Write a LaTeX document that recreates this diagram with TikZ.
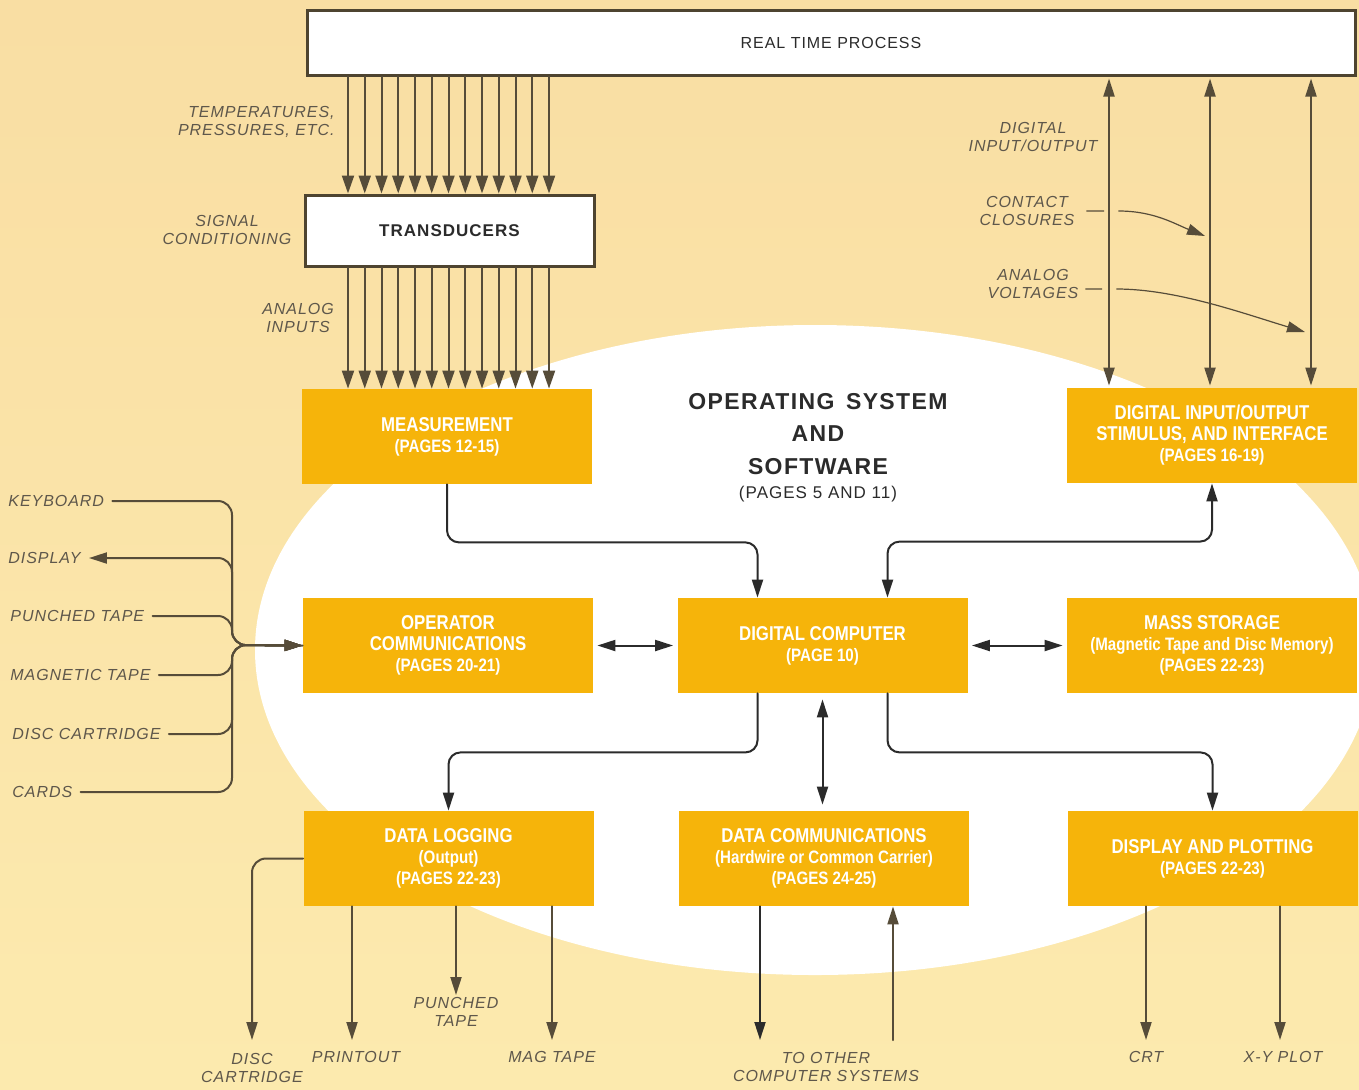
\documentclass[tikz,border=0pt]{standalone}
\usepackage{fontspec}
\setmainfont{Liberation Sans}
\newfontfamily\boxfont[FakeStretch=0.84]{Liberation Sans}
\newfontfamily\capfont[LetterSpace=6]{Liberation Sans}
\usetikzlibrary{arrows.meta,positioning}
\usepackage{xcolor}
\definecolor{rtBgTop}{HTML}{F9DEA3}
\definecolor{rtBgBot}{HTML}{FCEAAE}
\definecolor{rtGold}{HTML}{F6B40A}
\definecolor{rtInk}{HTML}{2B2B2B}
\definecolor{rtBrown}{HTML}{564C39}
\definecolor{rtLabel}{HTML}{5E574B}
\definecolor{rtFrame}{HTML}{4E4430}

% page reference line inside the gold boxes
\newcommand\pagesref[1]{{\fontsize{9}{10.5}\selectfont(#1)}}
\newcommand\subline[1]{{\fontsize{9}{10.5}\selectfont(#1)}}

\tikzset{
  >={Triangle[length=9pt,width=5.5pt]},
  unit/.style={fill=rtGold, minimum width=145pt, minimum height=47.5pt,
               inner sep=0, align=center, text=white,
               font=\boxfont\bfseries\fontsize{10}{10.5}\selectfont},
  frame/.style={draw=rtFrame, line width=1.5pt, fill=white, inner sep=0,
                text=rtInk},
  lbl/.style={text=rtLabel, align=center, inner sep=1pt,
              font=\capfont\itshape\fontsize{8}{9}\selectfont},
  feed/.style={draw=rtBrown, line width=1pt},
  link/.style={draw=rtInk, line width=1pt, rounded corners=6pt},
}

\begin{document}
\begin{tikzpicture}[x=0.5pt, y=-0.5pt, line cap=round]

% --- paper and the white field ---
\useasboundingbox (0,0) rectangle (1359,1089);
\shade[top color=rtBgTop, bottom color=rtBgBot] (0,0) rectangle (1359,1089);
\fill[white] (815,650) ellipse [x radius=560, y radius=325];

% --- process and transducers ---
\node[frame, minimum width=524pt, minimum height=32.5pt,
      font=\capfont\fontsize{8}{9}\selectfont] (rtp) at (831,42.5)
  {REAL TIME PROCESS};
\node[frame, minimum width=144.5pt, minimum height=35.5pt,
      font=\capfont\bfseries\fontsize{8.5}{9}\selectfont] (trans) at (449.5,230.5)
  {TRANSDUCERS};

% --- subsystem boxes ---
\node[unit] (meas) at (447,436.5) {MEASUREMENT\\\pagesref{PAGES 12-15}};
\node[unit] (dio) at (1212,435.5)
  {DIGITAL INPUT/OUTPUT\\STIMULUS, AND INTERFACE\\\pagesref{PAGES 16-19}};
\node[unit] (opc) at (448,645.5) {OPERATOR\\COMMUNICATIONS\\\pagesref{PAGES 20-21}};
\node[unit] (dc) at (822.5,645.5) {DIGITAL COMPUTER\\\pagesref{PAGE 10}};
\node[unit] (ms) at (1212,645.5)
  {MASS STORAGE\\\subline{Magnetic Tape and Disc Memory}\\\pagesref{PAGES 22-23}};
\node[unit] (dl) at (448.5,858.5) {DATA LOGGING\\\subline{Output}\\\pagesref{PAGES 22-23}};
\node[unit] (dcom) at (824,858.5)
  {DATA COMMUNICATIONS\\\subline{Hardwire or Common Carrier}\\\pagesref{PAGES 24-25}};
\node[unit] (dp) at (1212.5,858.5) {DISPLAY AND PLOTTING\\\pagesref{PAGES 22-23}};

% --- operating system title ---
\node[text=rtInk, align=center,
      font=\capfont\bfseries\fontsize{11.5}{16.25}\selectfont] (os) at (818,434)
  {OPERATING\enspace SYSTEM\\AND\\SOFTWARE};
\node[text=rtInk, font=\capfont\fontsize{8.5}{9}\selectfont] (ospg) at (818,494)
  {(PAGES 5 AND 11)};

% --- labels ---
\node[lbl, align=right, anchor=east] (temp) at (337,122) {TEMPERATURES,\\PRESSURES, ETC.};
\node[lbl] (sigc) at (227,230) {SIGNAL\\CONDITIONING};
\node[lbl] (anin) at (298,318) {ANALOG\\INPUTS};
\node[lbl] (dioLbl) at (1033,137) {DIGITAL\\INPUT/OUTPUT};
\node[lbl] (cc) at (1027,211) {CONTACT\\CLOSURES};
\node[lbl] (av) at (1033,284) {ANALOG\\VOLTAGES};

\node[lbl, anchor=west] (kbd) at (6,501) {KEYBOARD};
\node[lbl, anchor=west] (dsp) at (6,558) {DISPLAY};
\node[lbl, anchor=west] (ptape) at (8,616) {PUNCHED TAPE};
\node[lbl, anchor=west] (mtape) at (8,675) {MAGNETIC TAPE};
\node[lbl, anchor=west] (disc) at (10,734) {DISC CARTRIDGE};
\node[lbl, anchor=west] (cards) at (10,792) {CARDS};

\node[lbl] (dcart) at (252,1068) {DISC\\CARTRIDGE};
\node[lbl] (prn) at (356,1057) {PRINTOUT};
\node[lbl] (ptp) at (456,1012) {PUNCHED\\TAPE};
\node[lbl] (mag) at (552,1057) {MAG TAPE};
\node[lbl] (toc) at (826,1067) {TO OTHER\\COMPUTER SYSTEMS};
\node[lbl] (crt) at (1146,1057) {CRT};
\node[lbl] (xy) at (1283,1057) {X-Y PLOT};

\coordinate (outY) at (0,1040);
\coordinate (hub) at (232,645);
\coordinate (toSys) at (760,1040);
\coordinate (fromSys) at (893,1040);
\coordinate (ccTip) at (1205,236);
\coordinate (avTip) at (1305,332);

% --- signal paths ---
\foreach \i in {0,...,12} {
  \pgfmathsetmacro\sx{348+16.75*\i}
  \draw[feed, -{Triangle[length=9pt,width=6pt]}] (\sx,0 |- rtp.south) -- (\sx,0 |- trans.north);
  \draw[feed, -{Triangle[length=9pt,width=6pt]}] (\sx,0 |- trans.south) -- (\sx,0 |- meas.north);
}
\foreach \x in {1109,1210,1311}
  \draw[feed, <->, shorten <=1pt, shorten >=1pt] (\x,0 |- rtp.south) -- (\x,0 |- dio.north);

\draw[feed, line width=0.6pt, ->] ([xshift=5pt]cc.east) -- ++(17,0) ++(15,0)
  .. controls +(35,0) and +(-30,-12) .. (ccTip);
\draw[feed, line width=0.6pt, ->] ([shift={(5,5)}]av.east) -- ++(16,0) ++(15,0)
  .. controls +(60,0) and +(-60,-18) .. (avTip);

% operator devices
\foreach \nm in {kbd,ptape,mtape,disc,cards}
  \draw[feed, rounded corners=7pt, ->] ([xshift=3pt]\nm.east) -| (hub) -- (opc.west);
\draw[feed, rounded corners=7pt, <-] ([xshift=3pt]dsp.east) -| (hub) -- (opc.west);

% --- computer links ---
\draw[link, ->] (meas.south) -- ++(0,58) -| ([xshift=-32.5pt]dc.north);
\draw[link, <->] ([xshift=32.5pt]dc.north) -- ++(0,-56) -| (dio.south);
\draw[link, <->, shorten <=2pt, shorten >=2pt] (opc.east) -- (dc.west);
\draw[link, <->, shorten <=2pt, shorten >=2pt] (dc.east) -- (ms.west);
\draw[link, ->] ([xshift=-32.5pt]dc.south) -- ++(0,59) -| (dl.north);
\draw[link, ->] ([xshift=32.5pt]dc.south) -- ++(0,59) -| (dp.north);
\draw[link, <->, shorten <=3pt, shorten >=3pt] (dc.south) -- (dc.south |- dcom.north);

% --- outputs ---
\draw[feed, rounded corners=7pt, ->] (dl.west) -| (dcart.north |- outY);
\draw[feed, ->] ([xshift=-2pt]prn.north |- dl.south) -- ([xshift=-2pt]prn.north |- outY);
\draw[feed, ->] (ptp.north |- dl.south) -- (ptp.north);
\draw[feed, ->] (mag.north |- dl.south) -- (mag.north |- outY);
\draw[link, ->] (toSys |- dcom.south) -- (toSys);
\draw[feed, ->] (fromSys) -- (fromSys |- dcom.south);
\draw[feed, ->] (crt.north |- dp.south) -- (crt.north |- outY);
\draw[feed, ->] ([xshift=-1.5pt]xy.north |- dp.south) -- ([xshift=-1.5pt]xy.north |- outY);

\end{tikzpicture}
\end{document}
